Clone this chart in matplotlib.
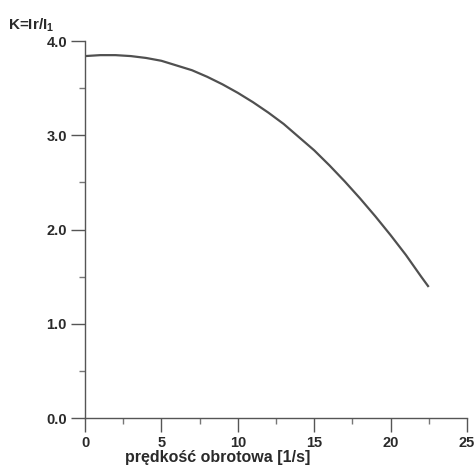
import matplotlib.pyplot as plt
from matplotlib.ticker import MultipleLocator, FormatStrFormatter

plt.rcParams['font.family'] = ['Liberation Sans', 'DejaVu Sans']
plt.rcParams['mathtext.fontset'] = 'custom'
plt.rcParams['mathtext.rm'] = 'Liberation Sans:bold'

# speed [1/s] and K = Ir/I1
speed = [0, 1, 2, 3, 4, 5, 6, 7, 8, 9, 10, 11, 12, 13, 14, 15,
         16, 17, 18, 19, 20, 21, 22, 22.45]
k_ratio = [3.84, 3.85, 3.85, 3.84, 3.82, 3.79, 3.74, 3.69, 3.62, 3.54,
           3.45, 3.35, 3.24, 3.12, 2.98, 2.84, 2.68, 2.51, 2.33, 2.14,
           1.94, 1.73, 1.50, 1.40]

x_ticks = [0, 5, 10, 15, 20, 25]
y_ticks = [0.0, 1.0, 2.0, 3.0, 4.0]

ink = '#2a2a2a'

fig = plt.figure(figsize=(4.76, 4.67), dpi=100)
ax = fig.add_axes([0.1786, 0.1049, 0.8025, 0.8073])

ax.plot(speed, k_ratio, color='#505050', lw=1.6)

ax.set_xlim(0, 25)
ax.set_ylim(0, 4.0)
ax.set_xticks(x_ticks)
ax.set_yticks(y_ticks)
ax.xaxis.set_minor_locator(MultipleLocator(2.5))
ax.yaxis.set_minor_locator(MultipleLocator(0.5))
ax.yaxis.set_major_formatter(FormatStrFormatter('%.1f'))

for s in ['top', 'right']:
    ax.spines[s].set_visible(False)
for s in ['left', 'bottom']:
    ax.spines[s].set_color('#555555')
    ax.spines[s].set_linewidth(1.0)

ax.tick_params(which='major', direction='out', length=10, width=1.0,
               color='#555555', labelsize=10.5, labelcolor=ink, pad=3)
ax.tick_params(which='minor', direction='out', length=4, width=1.0,
               color='#777777')
for lbl in ax.get_xticklabels() + ax.get_yticklabels():
    lbl.set_fontweight('bold')

ax.set_xlabel('prędkość obrotowa [1/s]', fontsize=11.5, fontweight='bold',
              color=ink)
ax.xaxis.set_label_coords(0.348, -0.085)

fig.text(0.017, 0.946, 'K=Ir/I$_\\mathregular{1}$', fontsize=11,
         fontweight='bold', color=ink, ha='left', va='center')

fig.savefig('out.png', dpi=100)
